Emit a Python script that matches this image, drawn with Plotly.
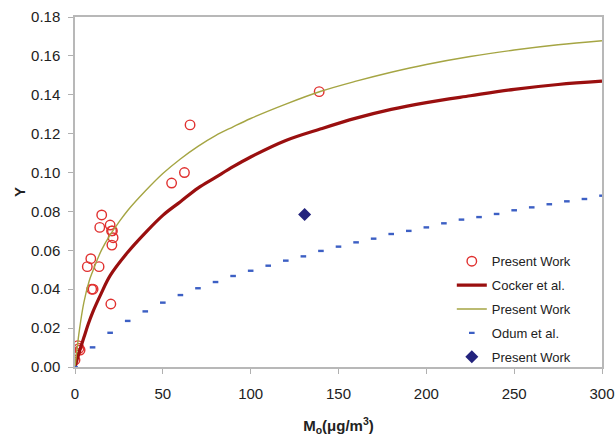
import plotly.graph_objects as go

# Present Work (experimental, open circles)
pw_x = [0.0, 0.3, 1.7, 2.3, 2.9, 7.0, 9.0, 9.5, 10.3, 13.7, 14.1, 15.2, 20.0, 20.4, 20.8, 21.3, 21.0, 21.7, 55.0, 62.3, 65.5, 139.0]
pw_y = [0.0036, 0.0074, 0.0110, 0.0096, 0.0087, 0.0516, 0.0557, 0.0400, 0.0400, 0.0516, 0.0718, 0.0782, 0.0730, 0.0324, 0.0700, 0.0700, 0.0627, 0.0665, 0.0946, 0.1000, 0.1245, 0.1416]

# Cocker et al. curve
ck_x = [0, 2.5, 5, 7.5, 10, 15, 20, 30, 40, 50, 60, 70, 80, 90, 100, 120, 140, 160, 180, 200, 225, 250, 275, 300]
ck_y = [0.0, 0.008, 0.015, 0.022, 0.028, 0.038, 0.047, 0.059, 0.069, 0.078, 0.085, 0.092, 0.0975, 0.103, 0.108,
        0.1165, 0.1225, 0.128, 0.1325, 0.136, 0.1395, 0.1428, 0.1453, 0.147]

# Present Work curve
pc_x = [0, 1, 2.5, 5, 8, 10, 15, 20, 25, 30, 40, 50, 60, 70, 80, 90, 100, 120, 140, 160, 180, 200, 225, 250, 275, 300]
pc_y = [0.0, 0.008, 0.019, 0.033, 0.044, 0.049, 0.060, 0.068, 0.0745, 0.0805, 0.0905, 0.0995, 0.107,
        0.1135, 0.119, 0.1235, 0.1278, 0.1352, 0.1418, 0.147, 0.1516, 0.1556, 0.1597, 0.163, 0.1657, 0.1678]

# Odum et al. (dash markers)
od_x = list(range(0, 301, 10))
od_y = [0.0, 0.0101, 0.0176, 0.0237, 0.0286, 0.0331, 0.0370, 0.0405, 0.0437, 0.0468, 0.0495,
        0.0521, 0.0547, 0.0569, 0.0597, 0.0619, 0.0641, 0.0660, 0.0684, 0.0700, 0.0718,
        0.0739, 0.0758, 0.0771, 0.0787, 0.0806, 0.0821, 0.0837, 0.0852, 0.0864, 0.0881]

# Present Work (diamond)
dm_x = [130.7]
dm_y = [0.0784]

x_ticks = [0, 50, 100, 150, 200, 250, 300]
y_ticks = [0.00, 0.02, 0.04, 0.06, 0.08, 0.10, 0.12, 0.14, 0.16, 0.18]

fig = go.Figure()
fig.add_trace(go.Scatter(x=pw_x, y=pw_y, mode="markers", name="Present Work", legendgroup="a",
                         marker=dict(symbol="circle-open", size=9.5, color="#e0302f", line=dict(width=1.4, color="#e0302f"))))
fig.add_trace(go.Scatter(x=ck_x, y=ck_y, mode="lines", name="Cocker et al.", legendgroup="b",
                         line=dict(color="#9a0f0f", width=3.2, shape="spline", smoothing=1.0)))
fig.add_trace(go.Scatter(x=pc_x, y=pc_y, mode="lines", name="Present Work", legendgroup="c",
                         line=dict(color="#a5a543", width=1.4, shape="spline", smoothing=1.0)))
fig.add_trace(go.Scatter(x=od_x, y=od_y, mode="markers", name="Odum et al.", legendgroup="d",
                         marker=dict(symbol="line-ew", size=4, color="#3c5fc4", line=dict(width=2.4, color="#3c5fc4"))))
fig.add_trace(go.Scatter(x=dm_x, y=dm_y, mode="markers", name="Present Work", legendgroup="e",
                         marker=dict(symbol="diamond", size=10, color="#23237d")))

base = "Liberation Sans, Arial, sans-serif"
fig.update_layout(
    width=615, height=436,
    margin=dict(l=75, r=13, t=17, b=69, autoexpand=False),
    plot_bgcolor="white", paper_bgcolor="white",
    font=dict(family=base, size=15, color="#222222"),
    showlegend=True,
    legend=dict(x=0.715, y=0.345, xanchor="left", yanchor="top", bgcolor="rgba(0,0,0,0)",
                font=dict(family=base, size=13, color="#222222"),
                tracegroupgap=4, itemwidth=30),
    xaxis=dict(range=[0, 300], tickvals=x_ticks, ticks="outside", ticklen=5, tickcolor="#b0b0b0",
               showline=True, linecolor="#b8b8b8", linewidth=1.5, mirror=True, showgrid=False, zeroline=False,
               ticklabelstandoff=7, automargin=False,
               title=dict(text="<b>M<sub>o</sub>(μg/m<sup>3</sup>)</b>", font=dict(size=15), standoff=20)),
    yaxis=dict(range=[0, 0.18], tickvals=y_ticks, tickformat=".2f", ticks="outside", ticklen=5, tickcolor="#b0b0b0",
               showline=True, linecolor="#b8b8b8", linewidth=1.5, mirror=True, showgrid=False, zeroline=False,
               ticklabelstandoff=5, automargin=False,
               title=dict(text="<b>Y</b>", font=dict(size=15), standoff=2)),
)

# remove the page's default body margin so the figure fills the window exactly
fig.write_html("out.html",
               config={"displayModeBar": False},
               post_script="document.body.style.margin='0';document.body.style.overflow='hidden';")
